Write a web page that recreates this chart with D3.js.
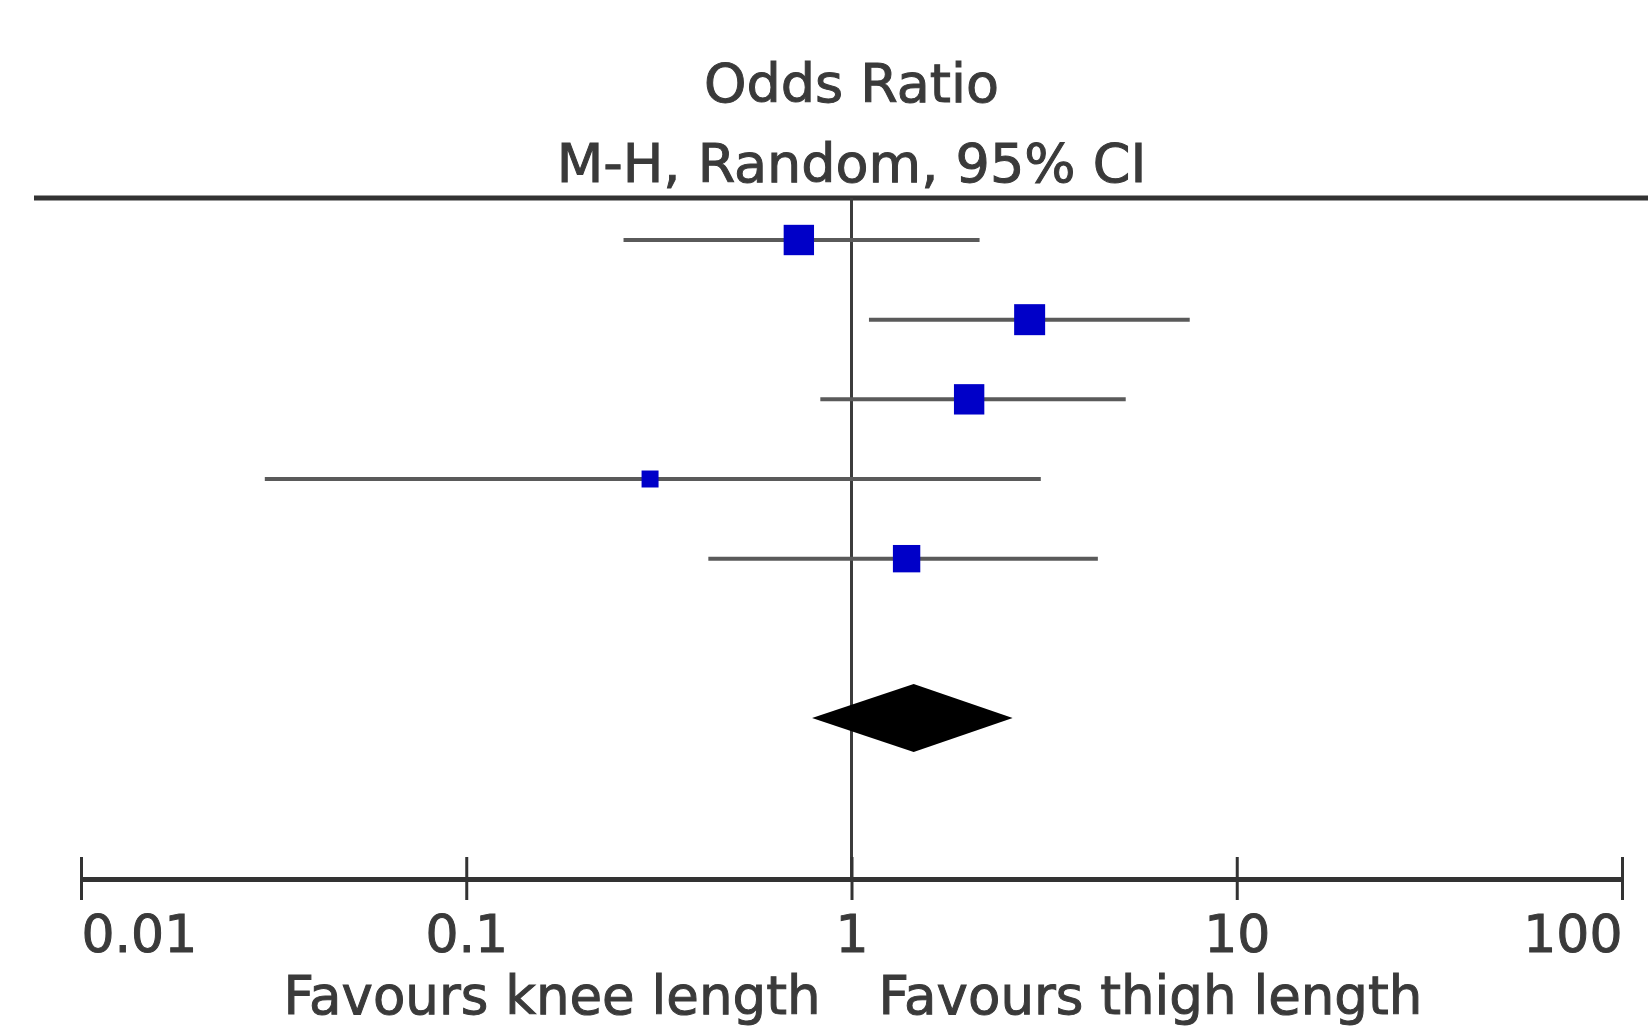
<!DOCTYPE html>
<html>
<head>
<meta charset="utf-8">
<script src="https://cdn.jsdelivr.net/npm/d3@7"></script>
<style>
    html, body { margin: 0; padding: 0; background: #fff; }
    svg { display: block; }
    text { font-family: "DejaVu Sans", sans-serif; fill: #3a3a3a; stroke: #3a3a3a; stroke-width: 1; }
</style>
</head>
<body>
<svg id="chart" width="1648" height="1028"></svg>
<script>
// study rows (odds ratio, 95% CI, weight %)
const studyOR = [0.73, 2.90, 2.02, 0.30, 1.39];
const studyLower = [0.256, 1.11, 0.83, 0.030, 0.425];
const studyUpper = [2.15, 7.55, 5.15, 3.10, 4.36];
const studyWeight = [24, 25, 24, 7.5, 19.5];

// pooled estimate
const pooledOR = [1.45];
const pooledLower = [0.79];
const pooledUpper = [2.62];

const tickValues = [0.01, 0.1, 1, 10, 100];
const tickLabels = ['0.01', '0.1', '1', '10', '100'];
const titleLines = ['Odds Ratio', 'M-H, Random, 95% CI'];
const favourLabels = ['Favours knee length', 'Favours thigh length'];

const width = 1648, height = 1028;
const svg = d3.select('#chart');

const x = d3.scaleLog().domain([0.01, 100]).range([81, 1622]);
// row index -> y; index 6 is the pooled diamond
const y = d3.scaleLinear().domain([0, 6]).range([240, 718]);
const side = d3.scaleSqrt().domain([0, 25]).range([0, 31]);

const topY = 198, axisY = 879;

// titles
svg.selectAll('text.title')
    .data(titleLines)
    .enter().append('text')
    .attr('class', 'title')
    .attr('x', x(1))
    .attr('y', (d, i) => i ? 182 : 102)
    .attr('text-anchor', 'middle')
    .attr('font-size', 54)
    .text(d => d);

// header rule
svg.append('line')
    .attr('x1', 34).attr('x2', width)
    .attr('y1', topY).attr('y2', topY)
    .attr('stroke', '#333').attr('stroke-width', 5);

// line of no effect
svg.append('line')
    .attr('x1', x(1)).attr('x2', x(1))
    .attr('y1', topY).attr('y2', axisY)
    .attr('stroke', '#3c3c3c').attr('stroke-width', 3);

const rows = studyOR.map((d, i) => ({or: d, lo: studyLower[i], hi: studyUpper[i], w: studyWeight[i], i}));

// confidence intervals
svg.append('g')
    .selectAll('line')
    .data(rows)
    .enter().append('line')
    .attr('x1', d => x(d.lo))
    .attr('x2', d => x(d.hi))
    .attr('y1', d => y(d.i))
    .attr('y2', d => y(d.i))
    .attr('stroke', '#5a5a5a')
    .attr('stroke-width', 4);

// point estimates
svg.append('g')
    .selectAll('rect')
    .data(rows)
    .enter().append('rect')
    .attr('x', d => x(d.or) - side(d.w) / 2)
    .attr('y', d => y(d.i) - side(d.w) / 2)
    .attr('width', d => side(d.w))
    .attr('height', d => side(d.w))
    .attr('fill', '#0000c8');

// pooled diamond
const dy = 34;
svg.append('path')
    .attr('d', () => {
        const cy = y(6);
        return `M${x(pooledLower[0])},${cy}L${x(pooledOR[0])},${cy - dy}L${x(pooledUpper[0])},${cy}L${x(pooledOR[0])},${cy + dy}Z`;
    })
    .attr('fill', '#000');

// x axis
const axis = svg.append('g')
    .attr('transform', `translate(0,${axisY})`)
    .call(d3.axisBottom(x).tickValues(tickValues).tickFormat((d, i) => tickLabels[i]).tickSizeOuter(0).tickSizeInner(21));

axis.select('.domain')
    .attr('stroke', '#333')
    .attr('stroke-width', 5);
axis.selectAll('.tick line')
    .attr('y1', -22)
    .attr('stroke', '#333')
    .attr('stroke-width', 3);
axis.selectAll('.tick text')
    .attr('y', 73)
    .attr('dy', null)
    .attr('font-family', '"DejaVu Sans", sans-serif')
    .attr('font-size', 52)
    .attr('fill', '#3a3a3a')
    .attr('text-anchor', (d, i) => i === 0 ? 'start' : i === tickValues.length - 1 ? 'end' : 'middle');

// favours labels
svg.selectAll('text.favour')
    .data(favourLabels)
    .enter().append('text')
    .attr('class', 'favour')
    .attr('x', (d, i) => i ? x(1) + 27 : x(1) - 31)
    .attr('y', 1014)
    .attr('text-anchor', (d, i) => i ? 'start' : 'end')
    .attr('font-size', 53)
    .text(d => d);
</script>
</body>
</html>
